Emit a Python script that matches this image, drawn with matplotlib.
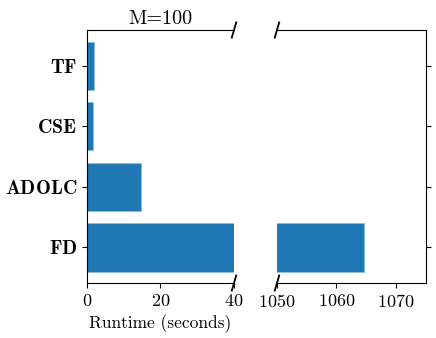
import matplotlib
matplotlib.use("Agg")
import matplotlib.pyplot as plt
import numpy as np

plt.rcParams['mathtext.fontset'] = 'cm'
plt.rcParams['font.family'] = 'cmr10'
plt.rcParams['axes.unicode_minus'] = False
plt.rcParams['axes.formatter.use_mathtext'] = True

methods = ['TF', 'CSE', 'ADOLC', 'FD']
runtimes = [2.0, 1.7, 14.6, 1064.7]
left_ticks = [0, 20, 40]
right_ticks = [1050, 1060, 1070]

fig = plt.figure(figsize=(4.36, 3.38), dpi=100)
ax1 = fig.add_axes([0.1995, 0.1627, 0.3372, 0.7485])
ax2 = fig.add_axes([0.6353, 0.1627, 0.3417, 0.7485], sharey=ax1)

ypos = np.arange(len(methods))
for ax in (ax1, ax2):
    ax.barh(ypos, runtimes, height=0.8, color='#1f77b4', edgecolor='#8fbde0', linewidth=0.6)
    ax.tick_params(labelsize=13)

ax1.set_xlim(0, 40)
ax2.set_xlim(1050, 1075.1)
ax1.set_xticks(left_ticks)
ax2.set_xticks(right_ticks)
ax1.invert_yaxis()
ax1.set_yticks(ypos)
ax1.set_yticklabels([r'$\mathbf{%s}$' % m for m in methods], fontsize=14.3)

ax1.spines['right'].set_visible(False)
ax2.spines['left'].set_visible(False)
ax2.yaxis.tick_right()
ax2.tick_params(labelright=False)

# break marks
d = 0.015
kw = dict(color='k', clip_on=False, linewidth=1.3)
ax1.plot((1 - d, 1 + d), (-d * 2, d * 2), transform=ax1.transAxes, **kw)
ax1.plot((1 - d, 1 + d), (1 - d * 2, 1 + d * 2), transform=ax1.transAxes, **kw)
ax2.plot((-d, d), (-d * 2, d * 2), transform=ax2.transAxes, **kw)
ax2.plot((-d, d), (1 - d * 2, 1 + d * 2), transform=ax2.transAxes, **kw)

ax1.set_title('M=100', fontsize=14.5, pad=4)
ax1.set_xlabel('Runtime (seconds)', fontsize=12.5)

fig.savefig('out.png', dpi=100)
